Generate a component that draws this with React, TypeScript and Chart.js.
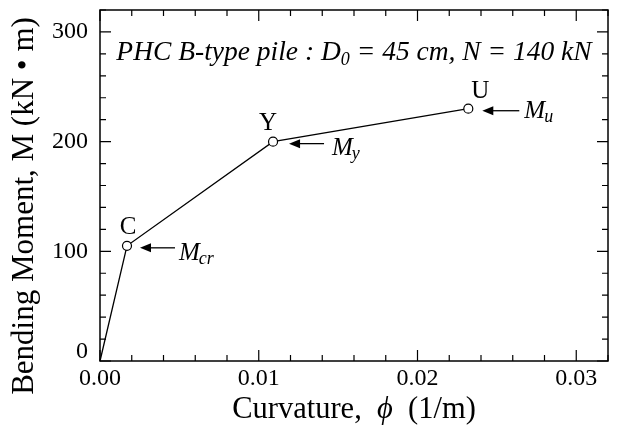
import React, { useEffect, useRef } from "react";
import { Chart, registerables } from "chart.js";

Chart.register(...registerables);

// ---- data ----
const curvature = [0, 0.0017, 0.0109, 0.0232];
const moment = [0, 105, 200, 230];
const pointLetters = ["", "C", "Y", "U"];
const momentSubscripts = ["", "cr", "y", "u"];
const xTickValues = [0, 0.01, 0.02, 0.03];
const yTickValues = [0, 100, 200, 300];
const xMinorStep = 0.002;
const yMinorStep = 20;
const xMin = 0;
const xMax = 0.032;
const yMin = 0;
const yMax = 320;
const titleMain = "PHC B-type pile : D";
const titleSub = "0";
const titleRest = " = 45 cm, N = 140 kN";
const xTitleA = "Curvature,  ";
const xTitleSymbol = "\u03D5";
const xTitleB = "  (1/m)";
const yTitle = "Bending Moment, M (kN \u2022 m)";

// ---- styles ----
const SERIF = '"Liberation Serif", "Times New Roman", serif';
const letterDX = [0, 1, -5, 12];
const letterBase = [0, -12, -12, -11];
const arrowTip = [0, 13, 16, 14];
const arrowTail = [0, 48, 51, 51];
const arrowDY = [0, 2, 2, 2];
const mLeft = [0, 52, 59, 56];
const mBase = [0, 14, 13, 9];

type Part = { t: string; f: string; dy?: number };

function drawRich(ctx: CanvasRenderingContext2D, parts: Part[], x: number, y: number) {
  let total = 0;
  const widths = parts.map((p) => {
    ctx.font = p.f;
    const w = ctx.measureText(p.t).width;
    total += w;
    return w;
  });
  let cx = x - total / 2;
  ctx.textAlign = "left";
  ctx.textBaseline = "alphabetic";
  parts.forEach((p, i) => {
    ctx.font = p.f;
    ctx.fillText(p.t, cx, y + (p.dy || 0));
    cx += widths[i];
  });
}

const decorPlugin = {
  id: "decor",
  afterDraw(chart: any) {
    const { ctx, chartArea: a } = chart;
    const x = chart.scales.x;
    const y = chart.scales.y;
    ctx.save();
    ctx.strokeStyle = "#000";
    ctx.fillStyle = "#000";

    // frame
    ctx.lineWidth = 1.5;
    ctx.strokeRect(a.left, a.top, a.right - a.left, a.bottom - a.top);

    // inward ticks on all sides
    const majorLen = 11;
    const minorLen = 6;
    ctx.lineWidth = 1.2;
    ctx.beginPath();
    const nx = Math.round((xMax - xMin) / xMinorStep);
    for (let i = 0; i <= nx; i++) {
      const v = xMin + i * xMinorStep;
      if (v > xMax + 1e-12) break;
      const isMajor = xTickValues.some((t) => Math.abs(t - v) < 1e-9);
      const px = x.getPixelForValue(v);
      const len = isMajor ? majorLen : minorLen;
      ctx.moveTo(px, a.bottom);
      ctx.lineTo(px, a.bottom - len);
      ctx.moveTo(px, a.top);
      ctx.lineTo(px, a.top + len);
    }
    const ny = Math.round((yMax - yMin) / yMinorStep);
    for (let i = 0; i <= ny; i++) {
      const v = yMin + i * yMinorStep;
      const isMajor = yTickValues.some((t) => Math.abs(t - v) < 1e-9);
      const py = y.getPixelForValue(v);
      const len = isMajor ? majorLen : minorLen;
      ctx.moveTo(a.left, py);
      ctx.lineTo(a.left + len, py);
      ctx.moveTo(a.right, py);
      ctx.lineTo(a.right - len, py);
    }
    ctx.stroke();

    // title inside the plot
    const cxMid = (a.left + a.right) / 2;
    drawRich(
      ctx,
      [
        { t: titleMain, f: `italic 27.5px ${SERIF}` },
        { t: titleSub, f: `italic 18px ${SERIF}`, dy: 5 },
        { t: titleRest, f: `italic 27.5px ${SERIF}` },
      ],
      cxMid,
      a.top + 50
    );

    // point annotations
    for (let i = 0; i < curvature.length; i++) {
      if (!pointLetters[i]) continue;
      const px = x.getPixelForValue(curvature[i]);
      const py = y.getPixelForValue(moment[i]);
      ctx.font = `25px ${SERIF}`;
      ctx.textAlign = "center";
      ctx.textBaseline = "alphabetic";
      ctx.fillText(pointLetters[i], px + letterDX[i], py + letterBase[i]);

      // arrow
      const ay = py + arrowDY[i];
      const tip = px + arrowTip[i];
      const headLen = 11;
      ctx.lineWidth = 1.3;
      ctx.beginPath();
      ctx.moveTo(px + arrowTail[i], ay);
      ctx.lineTo(tip + headLen - 1, ay);
      ctx.stroke();
      ctx.beginPath();
      ctx.moveTo(tip, ay);
      ctx.lineTo(tip + headLen, ay - 4.5);
      ctx.lineTo(tip + headLen, ay + 4.5);
      ctx.closePath();
      ctx.fill();

      // M label with subscript
      ctx.textAlign = "left";
      ctx.font = `italic 25px ${SERIF}`;
      const mx = px + mLeft[i];
      const my = py + mBase[i];
      ctx.fillText("M", mx, my);
      const mw = ctx.measureText("M").width;
      ctx.font = `italic 18px ${SERIF}`;
      ctx.fillText(momentSubscripts[i], mx + mw - 1, my + 4);
    }

    // axis titles
    drawRich(
      ctx,
      [
        { t: xTitleA, f: `30.5px ${SERIF}` },
        { t: xTitleSymbol, f: `italic 30.5px ${SERIF}` },
        { t: xTitleB, f: `30.5px ${SERIF}` },
      ],
      cxMid,
      418
    );
    ctx.save();
    ctx.translate(33, 206);
    ctx.rotate(-Math.PI / 2);
    drawRich(ctx, [{ t: yTitle, f: `31px ${SERIF}` }], 0, 0);
    ctx.restore();

    ctx.restore();
  },
};

export default function App() {
  const ref = useRef<HTMLCanvasElement>(null);
  useEffect(() => {
    const canvas = ref.current;
    if (!canvas) return;
    const chart = new Chart(canvas, {
      type: "line",
      data: {
        datasets: [
          {
            data: curvature.map((c, i) => ({ x: c, y: moment[i] })),
            borderColor: "#000",
            borderWidth: 1.3,
            pointRadius: [0, 4.5, 4.5, 4.5],
            pointBackgroundColor: "#fff",
            pointBorderColor: "#000",
            pointBorderWidth: 1.2,
            tension: 0,
            clip: false as any,
          },
        ],
      },
      options: {
        animation: false,
        responsive: false,
        devicePixelRatio: 1,
        layout: { padding: { left: 0, top: 0, right: 9, bottom: 0 } },
        plugins: { legend: { display: false }, tooltip: { enabled: false }, title: { display: false } },
        scales: {
          x: {
            type: "linear",
            min: xMin,
            max: xMax,
            grid: { display: false, drawTicks: false },
            border: { display: false },
            afterBuildTicks: (scale: any) => {
              scale.ticks = xTickValues.map((v) => ({ value: v }));
            },
            afterFit: (scale: any) => {
              scale.height = 66;
            },
            ticks: {
              color: "#000",
              padding: 3,
              maxRotation: 0,
              autoSkip: false,
              font: { family: SERIF, size: 24 },
              callback: (v: any) => Number(v).toFixed(2),
            },
          },
          y: {
            type: "linear",
            min: yMin,
            max: yMax,
            grid: { display: false, drawTicks: false },
            border: { display: false },
            afterBuildTicks: (scale: any) => {
              scale.ticks = yTickValues.map((v) => ({ value: v }));
            },
            afterFit: (scale: any) => {
              scale.width = 100;
              scale.paddingTop = 0;
            },
            ticks: {
              color: "#000",
              padding: 12,
              autoSkip: false,
              font: { family: SERIF, size: 24, lineHeight: 0.8 },
              callback: (v: any) => (Number(v) === 0 ? ["0", ""] : String(v)),
            },
          },
        },
      },
      plugins: [
        decorPlugin,
        {
          id: "fixTop",
          beforeLayout(chart: any) {
            chart.options.layout.padding.top = 10;
          },
        },
      ],
    });
    return () => chart.destroy();
  }, []);
  return (
    <div style={{ position: "absolute", left: 0, top: 0, width: 617, height: 427, background: "#fff" }}>
      <canvas ref={ref} width={617} height={427} style={{ display: "block", width: 617, height: 427 }} />
    </div>
  );
}
